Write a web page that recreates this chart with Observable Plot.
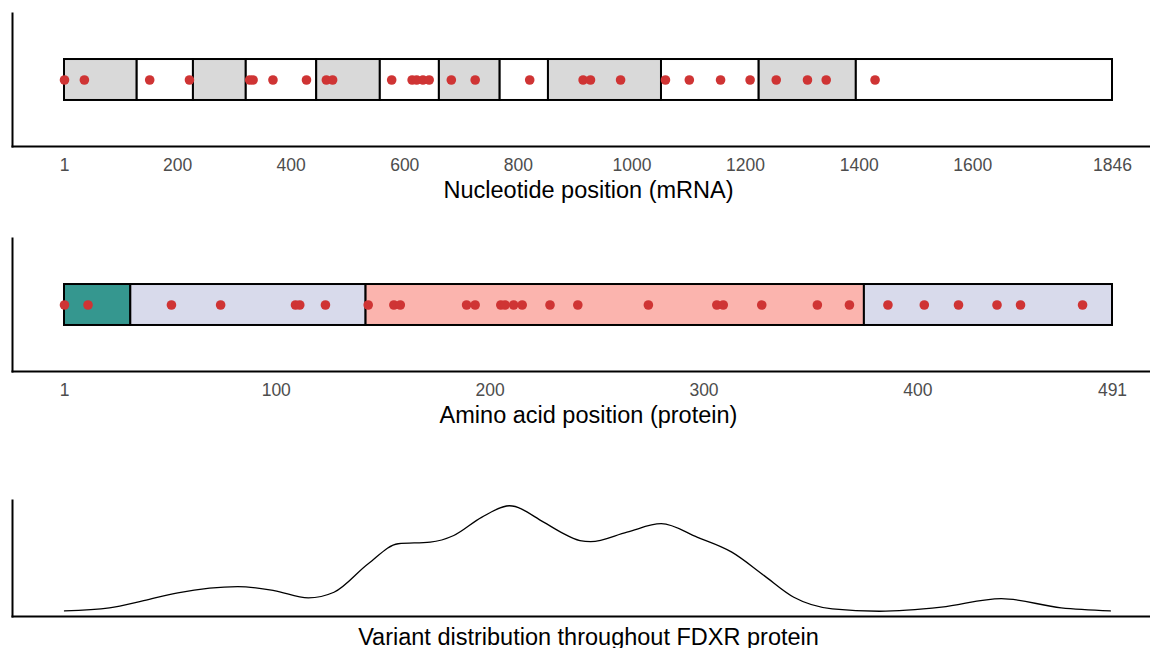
<!DOCTYPE html>
<html>
<head>
<meta charset="utf-8">
<script src="https://cdn.jsdelivr.net/npm/d3@7"></script>
<script src="https://cdn.jsdelivr.net/npm/@observablehq/plot@0.6"></script>
<style>
  body { margin: 0; background: #ffffff; }
  #chart { width: 1150px; }
  #chart svg { display: block; }
</style>
</head>
<body>
<div id="chart"></div>
<script>
// ---- Data ----
// mRNA exon boundaries (nucleotide positions)
const exonStarts = [1, 129, 228, 321, 445, 557, 661, 768, 853, 1052, 1224, 1395];
const exonEnds   = [129, 228, 321, 445, 557, 661, 768, 853, 1052, 1224, 1395, 1846];
const exonNumbers = [1, 2, 3, 4, 5, 6, 7, 8, 9, 10, 11, 12];
// variant positions on the mRNA
const nucleotideVariants = [1, 36, 151, 221, 327, 333, 368, 427, 462, 473, 577, 613, 621, 632, 643, 682, 724, 820, 914, 927, 980, 1059, 1101, 1156, 1208, 1254, 1309, 1342, 1428];
const nucleotideTicks = [1, 200, 400, 600, 800, 1000, 1200, 1400, 1600, 1846];

// protein domains (amino-acid positions)
const domainNames  = ["Transit peptide", "FAD-binding", "NADP-binding", "FAD-binding (C-term)"];
const domainStarts = [1, 32, 142, 375];
const domainEnds   = [32, 142, 375, 491];
// variant positions on the protein
const proteinVariants = [1, 12, 51, 74, 109, 111, 123, 143, 155, 158, 189, 193, 205, 207, 211, 215, 228, 241, 274, 306, 309, 327, 353, 368, 386, 403, 419, 437, 448, 477];
const proteinTicks = [1, 100, 200, 300, 400, 491];

// variant density along the protein (relative, peak = 1)
const densityPositions = [1, 22, 38, 54, 82, 99, 115, 127, 143, 157, 172, 183, 196, 209, 225, 233, 242, 247, 264, 280, 297, 313, 328, 342, 360, 382, 411, 439, 467, 490];
const densityValues    = [0.003, 0.032, 0.10, 0.175, 0.234, 0.196, 0.127, 0.18, 0.45, 0.64, 0.655, 0.718, 0.89, 1.0, 0.845, 0.75, 0.67, 0.66, 0.75, 0.83, 0.70, 0.56, 0.34, 0.133, 0.023, 0.0, 0.038, 0.12, 0.032, 0.003];

// ---- Tables built from the arrays ----
const exons = exonStarts.map((s, i) => ({start: s, end: exonEnds[i], exon: exonNumbers[i]}));
const domains = domainStarts.map((s, i) => ({start: s, end: domainEnds[i], name: domainNames[i]}));
const density = densityPositions.map((p, i) => ({pos: p, value: densityValues[i]}));

const FONT = "'Liberation Sans', Arial, Helvetica, sans-serif";
const DOT = "#cf3434";
const TRACK_Y1 = 0.346, TRACK_Y2 = 0.654;

function trackPlot({height, domain, ticks, title, rectMark, variants}) {
  return Plot.plot({
    width: 1150,
    height,
    marginLeft: 12,
    marginRight: 0,
    marginTop: 13,
    marginBottom: height - 146,
    style: {fontFamily: FONT, background: "#ffffff", overflow: "visible"},
    x: {domain, range: [64, 1112]},
    y: {domain: [0, 1], axis: null},
    color: {type: "categorical", domain: domainNames, range: ["#35978f", "#d8daeb", "#fbb4ae", "#d8daeb"]},
    marks: [
      Plot.frame({anchor: "left", stroke: "black", strokeWidth: 2}),
      Plot.frame({anchor: "bottom", stroke: "black", strokeWidth: 2}),
      rectMark,
      Plot.dot(variants, {x: d => d, y: () => 0.5, r: 4.8, fill: DOT, stroke: "none"}),
      Plot.axisX({ticks, tickSize: 0, tickPadding: 12, tickFormat: d => String(d), fontSize: 17.5, fill: "#4d4d4d", label: null}),
      Plot.text([title], {text: d => d, frameAnchor: "bottom", lineAnchor: "middle", dx: 7, dy: 44, fontSize: 23.5, fill: "black"})
    ]
  });
}

const p1 = trackPlot({
  height: 225,
  domain: [1, 1846],
  ticks: nucleotideTicks,
  title: "Nucleotide position (mRNA)",
  variants: nucleotideVariants,
  rectMark: Plot.rect(exons, {
    x1: "start", x2: "end", y1: () => TRACK_Y1, y2: () => TRACK_Y2,
    fill: d => (d.exon % 2 === 1 ? "#d9d9d9" : "#ffffff"),
    stroke: "black", strokeWidth: 2
  })
});

const p2 = trackPlot({
  height: 225,
  domain: [1, 491],
  ticks: proteinTicks,
  title: "Amino acid position (protein)",
  variants: proteinVariants,
  rectMark: Plot.rect(domains, {
    x1: "start", x2: "end", y1: () => TRACK_Y1, y2: () => TRACK_Y2,
    fill: "name", stroke: "black", strokeWidth: 2
  })
});

const p3 = Plot.plot({
  width: 1150,
  height: 160,
  marginLeft: 12,
  marginRight: 0,
  marginTop: 12,
  marginBottom: 32,
  style: {fontFamily: FONT, background: "#ffffff", overflow: "visible"},
  x: {domain: [1, 491], range: [64, 1112], axis: null},
  y: {domain: [-0.05, 1.05], axis: null},
  marks: [
    Plot.frame({anchor: "left", stroke: "black", strokeWidth: 2}),
    Plot.frame({anchor: "bottom", stroke: "black", strokeWidth: 2}),
    Plot.line(density, {x: "pos", y: "value", curve: "monotone-x", stroke: "black", strokeWidth: 1.3}),
    Plot.text(["Variant distribution throughout FDXR protein"], {text: d => d, frameAnchor: "bottom", lineAnchor: "middle", dx: 7, dy: 21, fontSize: 23.5, fill: "black"})
  ]
});

const chart = document.getElementById("chart");
chart.append(p1);
chart.append(p2);
const spacer = document.createElement("div"); spacer.style.height = "38px"; chart.append(spacer);
chart.append(p3);
</script>
</body>
</html>
